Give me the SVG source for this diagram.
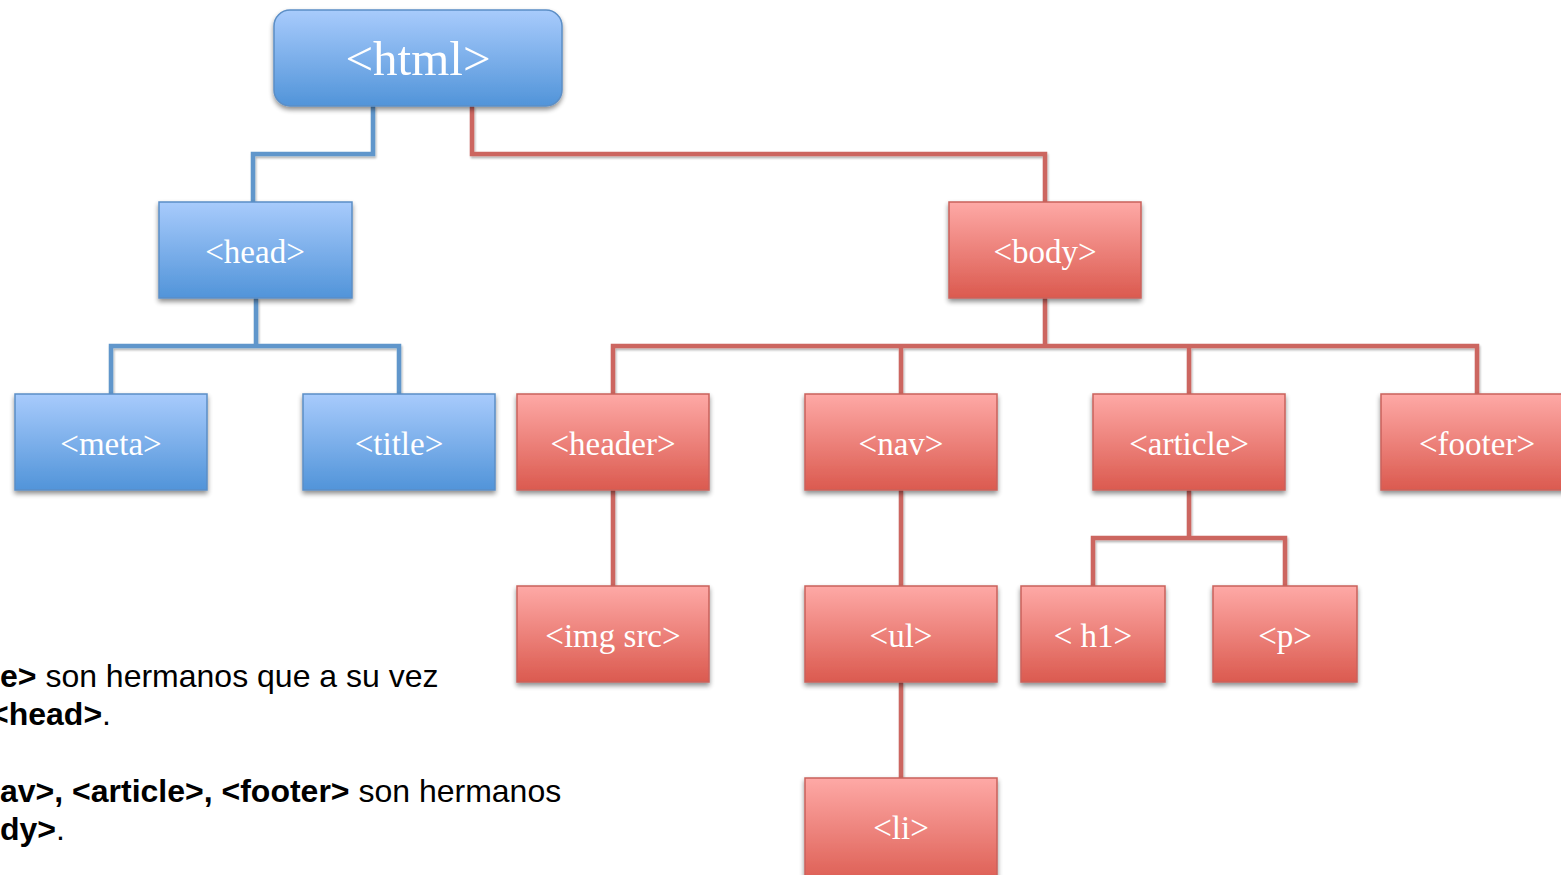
<svg xmlns="http://www.w3.org/2000/svg" width="1561" height="875" viewBox="0 0 1561 875">
<defs>
<linearGradient id="gb" x1="0" y1="0" x2="0" y2="1">
<stop offset="0" stop-color="#a8cbfc"/>
<stop offset="1" stop-color="#5194d9"/>
</linearGradient>
<linearGradient id="gr" x1="0" y1="0" x2="0" y2="1">
<stop offset="0" stop-color="#fea9a6"/>
<stop offset="1" stop-color="#db5a4f"/>
</linearGradient>
<filter id="sh" x="-10%" y="-10%" width="120%" height="130%">
<feGaussianBlur in="SourceAlpha" stdDeviation="2.5"/>
<feOffset dx="0" dy="3" result="b"/>
<feComponentTransfer><feFuncA type="linear" slope="0.45"/></feComponentTransfer>
<feMerge><feMergeNode/><feMergeNode in="SourceGraphic"/></feMerge>
</filter>
<filter id="lsh" filterUnits="userSpaceOnUse" x="0" y="0" width="1561" height="875">
<feGaussianBlur in="SourceAlpha" stdDeviation="1.2"/>
<feOffset dx="1" dy="2" result="b"/>
<feComponentTransfer><feFuncA type="linear" slope="0.3"/></feComponentTransfer>
<feMerge><feMergeNode/><feMergeNode in="SourceGraphic"/></feMerge>
</filter>
</defs>
<style>
.b{fill:url(#gb);stroke:#5b8ec6;stroke-width:1.5;filter:url(#sh)}
.r{fill:url(#gr);stroke:#c9625c;stroke-width:1.5;filter:url(#sh)}
.t{font-family:"Liberation Serif","Times New Roman",serif;font-size:33px;fill:#ffffff;text-anchor:middle}
.cb{fill:none;stroke:#6096cb;stroke-width:4.5}
.cr{fill:none;stroke:#cc6660;stroke-width:4.5}
.n{font-family:"Liberation Sans",Arial,sans-serif;font-size:32px;fill:#000000}
.bo{font-weight:bold}
</style>
<rect width="1561" height="875" fill="#ffffff"/>
<g id="connectors" filter="url(#lsh)">
<path class="cb" d="M373,106 V154 H253 V202"/>
<path class="cr" d="M472,106 V154 H1045 V202"/>
<path class="cb" d="M256,298 V346 M111,394 V346 H399 V394"/>
<path class="cr" d="M1045,298 V346 M613,394 V346 H1477 V394 M901,346 V394 M1189,346 V394"/>
<path class="cr" d="M613,490 V586"/>
<path class="cr" d="M901,490 V586 M901,682 V778"/>
<path class="cr" d="M1189,490 V538 M1093,586 V538 H1285 V586"/>
</g>
<g id="html"><rect class="b" x="274" y="10" width="288" height="96" rx="16"/><text class="t" x="418" y="75" style="font-size:49px">&lt;html&gt;</text></g>
<g id="head"><rect class="b" x="159" y="202" width="193" height="96"/><text class="t" x="255" y="263">&lt;head&gt;</text></g>
<g id="body"><rect class="r" x="949" y="202" width="192" height="96"/><text class="t" x="1045" y="263">&lt;body&gt;</text></g>
<g id="meta"><rect class="b" x="15" y="394" width="192" height="96"/><text class="t" x="111" y="455">&lt;meta&gt;</text></g>
<g id="title"><rect class="b" x="303" y="394" width="192" height="96"/><text class="t" x="399" y="455">&lt;title&gt;</text></g>
<g id="header"><rect class="r" x="517" y="394" width="192" height="96"/><text class="t" x="613" y="455">&lt;header&gt;</text></g>
<g id="nav"><rect class="r" x="805" y="394" width="192" height="96"/><text class="t" x="901" y="455">&lt;nav&gt;</text></g>
<g id="article"><rect class="r" x="1093" y="394" width="192" height="96"/><text class="t" x="1189" y="455">&lt;article&gt;</text></g>
<g id="footer"><rect class="r" x="1381" y="394" width="192" height="96"/><text class="t" x="1477" y="455">&lt;footer&gt;</text></g>
<g id="imgsrc"><rect class="r" x="517" y="586" width="192" height="96"/><text class="t" x="613" y="647">&lt;img src&gt;</text></g>
<g id="ul"><rect class="r" x="805" y="586" width="192" height="96"/><text class="t" x="901" y="647">&lt;ul&gt;</text></g>
<g id="h1"><rect class="r" x="1021" y="586" width="144" height="96"/><text class="t" x="1093" y="647">&lt; h1&gt;</text></g>
<g id="p"><rect class="r" x="1213" y="586" width="144" height="96"/><text class="t" x="1285" y="647">&lt;p&gt;</text></g>
<g id="li"><rect class="r" x="805" y="778" width="192" height="110"/><text class="t" x="901" y="839">&lt;li&gt;</text></g>
<g id="notes">
<text class="n" x="0" y="687"><tspan class="bo">e&gt;</tspan> son hermanos que a su vez</text>
<text class="n" x="-10" y="725"><tspan class="bo">&lt;head&gt;</tspan>.</text>
<text class="n" x="0" y="802"><tspan class="bo">av&gt;, &lt;article&gt;, &lt;footer&gt;</tspan> son hermanos</text>
<text class="n" x="0" y="840"><tspan class="bo">dy&gt;</tspan>.</text>
</g>
</svg>
